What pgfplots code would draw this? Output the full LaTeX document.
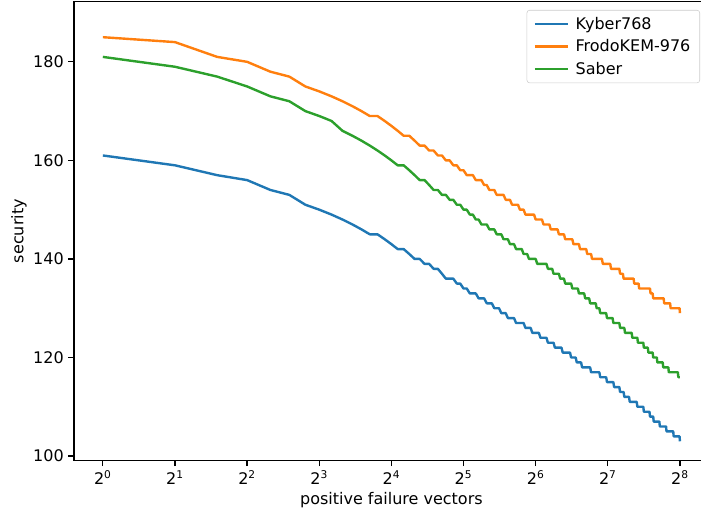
\documentclass[border=0pt]{standalone}
\usepackage{fontspec}
\setmainfont{DejaVu Sans}
\usepackage{pgfplots}
\pgfplotsset{compat=1.18}
\definecolor{tabblue}{HTML}{1F77B4}
\definecolor{taborange}{HTML}{FF7F0E}
\definecolor{tabgreen}{HTML}{2CA02C}
\newcommand{\lblfont}{\fontsize{12pt}{14.4pt}\selectfont}
\begin{document}
\begin{tikzpicture}
\begin{axis}[
  at={(0pt,0pt)}, anchor=south west,
  scale only axis, width=476.1pt, height=344.1pt,
  xmode=log, log basis x=2,
  xmin=0.7579, xmax=337.8, ymin=99.1, ymax=192.2,
  xtick={1,2,4,8,16,32,64,128,256},
  xticklabels={2\textsuperscript{0},2\textsuperscript{1},2\textsuperscript{2},2\textsuperscript{3},2\textsuperscript{4},2\textsuperscript{5},2\textsuperscript{6},2\textsuperscript{7},2\textsuperscript{8}},
  ytick={100,120,140,160,180},
  minor xtick={}, minor ytick={},
  xtick pos=bottom, ytick pos=left,
  tick align=outside,
  major tick length=4.2pt,
  every tick/.style={black, line width=0.96pt},
  axis line style={line width=0.96pt},
  tick label style={font=\lblfont},
  /pgf/number format/assume math mode=true,
  xlabel={positive failure vectors}, ylabel={security},
  label style={font=\lblfont},
  xlabel style={at={(axis description cs:0.5,-0.0861)}, anchor=center},
  ylabel style={at={(axis description cs:-0.0866,0.5)}, anchor=center},
  legend cell align=left,
  legend image code/.code={\draw[#1] (0pt,0pt) -- (24.75pt,0pt);},
  legend style={at={(axis description cs:1,1)}, anchor=north east, xshift=-6.6pt, yshift=-6.2pt,
    draw=black!20, rounded corners=2pt, fill=white, font=\lblfont, row sep=2.3pt,
    inner xsep=5pt, inner ysep=3pt,
    /tikz/every odd column/.append style={column sep=3pt}},
]
\addplot[tabblue, line width=1.8pt, line join=round] coordinates {
(1,161)(2,159)(3,157)(4,156)(5,154)(6,153)(7,151)(8,150)(9,149)(10,148)(11,147)(12,146)(13,145)(14,145)(15,144)(16,143)(17,142)(18,142)(19,141)(20,140)(21,140)(22,139)(23,139)(24,138)(25,138)(26,137)(27,136)(29,136)(30,135)(31,135)(32,134)(33,134)(34,133)(36,133)(37,132)(39,132)(40,131)(42,131)(43,130)(45,130)(46,129)(48,129)(49,128)(52,128)(53,127)(57,127)(58,126)(61,126)(62,125)(66,125)(67,124)(71,124)(72,123)(76,123)(77,122)(82,122)(83,121)(89,121)(90,120)(94,120)(95,119)(99,119)(100,118)(108,118)(109,117)(118,117)(119,116)(126,116)(127,115)(135,115)(136,114)(143,114)(144,113)(149,113)(150,112)(157,112)(158,111)(169,111)(170,110)(180,110)(181,109)(191,109)(192,108)(198,108)(199,107)(210,107)(211,106)(224,106)(225,105)(240,105)(241,104)(255,104)(256,103)
};
\addlegendentry{Kyber768}
\addplot[taborange, line width=1.8pt, line join=round] coordinates {
(1,185)(2,184)(3,181)(4,180)(5,178)(6,177)(7,175)(8,174)(9,173)(10,172)(11,171)(12,170)(13,169)(14,169)(15,168)(16,167)(17,166)(18,165)(19,165)(20,164)(21,163)(22,163)(23,162)(24,162)(25,161)(26,161)(27,160)(28,160)(29,159)(30,159)(31,158)(32,158)(33,157)(35,157)(36,156)(38,156)(39,155)(40,155)(41,154)(43,154)(44,153)(47,153)(48,152)(50,152)(51,151)(54,151)(55,150)(57,150)(58,149)(63,149)(64,148)(68,148)(69,147)(73,147)(74,146)(79,146)(80,145)(84,145)(85,144)(91,144)(92,143)(97,143)(98,142)(104,142)(105,141)(109,141)(110,140)(121,140)(122,139)(131,139)(132,138)(143,138)(144,137)(148,137)(149,136)(164,136)(165,135)(172,135)(173,134)(192,134)(193,133)(197,133)(198,132)(219,132)(220,131)(233,131)(234,130)(255,130)(256,129)
};
\addlegendentry{FrodoKEM-976}
\addplot[tabgreen, line width=1.8pt, line join=round] coordinates {
(1,181)(2,179)(3,177)(4,175)(5,173)(6,172)(7,170)(8,169)(9,168)(10,166)(11,165)(12,164)(13,163)(14,162)(15,161)(16,160)(17,159)(18,159)(19,158)(20,157)(21,156)(22,156)(23,155)(24,154)(25,154)(26,153)(27,153)(28,152)(29,152)(30,151)(31,151)(32,150)(33,150)(34,149)(35,149)(36,148)(37,148)(38,147)(40,147)(41,146)(43,146)(44,145)(46,145)(47,144)(49,144)(50,143)(52,143)(53,142)(56,142)(57,141)(59,141)(60,140)(64,140)(65,139)(71,139)(72,138)(75,138)(76,137)(80,137)(81,136)(84,136)(85,135)(90,135)(91,134)(96,134)(97,133)(102,133)(103,132)(107,132)(108,131)(114,131)(115,130)(118,130)(119,129)(126,129)(127,128)(134,128)(135,127)(143,127)(144,126)(150,126)(151,125)(161,125)(162,124)(170,124)(171,123)(180,123)(181,122)(188,122)(189,121)(197,121)(198,120)(205,120)(206,119)(217,119)(218,118)(229,118)(230,117)(251,117)(252,116)(256,116)
};
\addlegendentry{Saber}
\end{axis}
\pgfresetboundingbox
\useasboundingbox (-55.5pt,-38.625pt) rectangle (470.25pt,345.375pt);
\end{tikzpicture}
\end{document}
